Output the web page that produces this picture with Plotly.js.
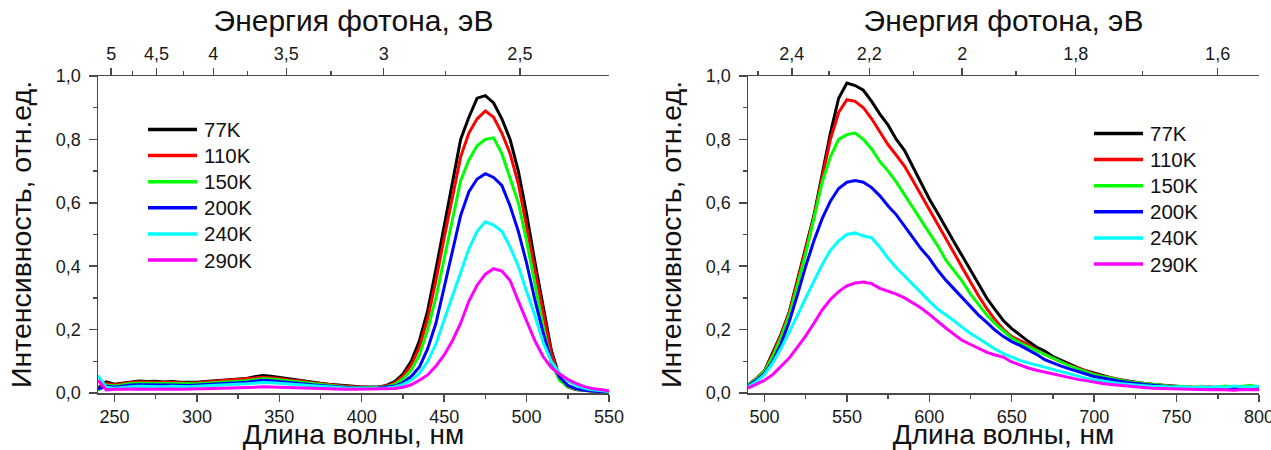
<!DOCTYPE html>
<html>
<head>
<meta charset="utf-8">
<script src="https://cdn.plot.ly/plotly-3.0.1.min.js"></script>
<style>
  html, body { margin: 0; padding: 0; background: #fff; }
  #chart { width: 1271px; height: 450px; }
</style>
</head>
<body>
<div id="chart"></div>
<script>
// Photoluminescence spectra at several temperatures: excitation band (left)
// and emission band (right), each with a photon-energy scale on top.

const seriesNames = ['77K', '110K', '150K', '200K', '240K', '290K'];
const seriesColors = ['#000000', '#ff0000', '#00ff00', '#0000ff', '#00ffff', '#ff00ff'];

// ---- Left panel: wavelength grid, nm
const wlLeft = [240, 245, 250, 255, 260, 265, 270, 275, 280, 285, 290, 295, 300, 305, 310, 315,
  320, 325, 330, 335, 340, 345, 350, 355, 360, 365, 370, 375, 380, 385, 390, 395, 400, 405, 410,
  415, 420, 425, 430, 435, 440, 445, 450, 455, 460, 465, 470, 475, 480, 485, 490, 495, 500, 505,
  510, 515, 520, 525, 530, 535, 540, 545, 550];

const left77 = [0.015, 0.035, 0.028, 0.032, 0.036, 0.038, 0.036, 0.037, 0.035, 0.036, 0.034, 0.033,
  0.034, 0.036, 0.038, 0.040, 0.041, 0.043, 0.046, 0.051, 0.055, 0.053, 0.049, 0.045, 0.043, 0.039,
  0.035, 0.031, 0.028, 0.025, 0.022, 0.021, 0.019, 0.018, 0.019, 0.024, 0.036, 0.060, 0.100, 0.165,
  0.260, 0.390, 0.530, 0.670, 0.800, 0.870, 0.930, 0.938, 0.915, 0.865, 0.800, 0.700, 0.565, 0.415,
  0.275, 0.135, 0.050, 0.020, 0.011, 0.008, 0.006, 0.004, 0.003];
const left110 = [0.012, 0.030, 0.025, 0.030, 0.033, 0.035, 0.034, 0.035, 0.033, 0.034, 0.032, 0.031,
  0.032, 0.034, 0.036, 0.037, 0.039, 0.041, 0.043, 0.047, 0.050, 0.049, 0.046, 0.042, 0.040, 0.036,
  0.032, 0.029, 0.026, 0.023, 0.021, 0.020, 0.018, 0.017, 0.018, 0.022, 0.032, 0.053, 0.088, 0.145,
  0.235, 0.355, 0.490, 0.620, 0.745, 0.820, 0.865, 0.890, 0.870, 0.820, 0.755, 0.660, 0.530, 0.390,
  0.255, 0.125, 0.048, 0.020, 0.011, 0.008, 0.006, 0.004, 0.003];
const left150 = [0.010, 0.025, 0.022, 0.027, 0.030, 0.031, 0.030, 0.031, 0.030, 0.030, 0.029, 0.028,
  0.029, 0.031, 0.032, 0.034, 0.035, 0.037, 0.039, 0.042, 0.045, 0.044, 0.041, 0.038, 0.036, 0.033,
  0.030, 0.027, 0.024, 0.021, 0.019, 0.018, 0.017, 0.016, 0.017, 0.020, 0.027, 0.045, 0.072, 0.120,
  0.200, 0.300, 0.420, 0.550, 0.670, 0.735, 0.780, 0.800, 0.805, 0.755, 0.680, 0.600, 0.480, 0.340,
  0.210, 0.095, 0.040, 0.020, 0.012, 0.008, 0.006, 0.004, 0.003];
const left200 = [0.012, 0.022, 0.018, 0.022, 0.025, 0.026, 0.025, 0.026, 0.025, 0.025, 0.024, 0.024,
  0.025, 0.026, 0.028, 0.029, 0.031, 0.032, 0.034, 0.037, 0.040, 0.039, 0.036, 0.033, 0.031, 0.029,
  0.026, 0.024, 0.021, 0.019, 0.017, 0.016, 0.015, 0.015, 0.016, 0.018, 0.022, 0.033, 0.052, 0.082,
  0.140, 0.220, 0.330, 0.450, 0.560, 0.635, 0.675, 0.692, 0.680, 0.655, 0.590, 0.510, 0.410, 0.295,
  0.190, 0.100, 0.050, 0.024, 0.013, 0.009, 0.006, 0.004, 0.003];
const left240 = [0.055, 0.018, 0.015, 0.018, 0.020, 0.021, 0.020, 0.021, 0.020, 0.021, 0.020, 0.020,
  0.021, 0.022, 0.023, 0.025, 0.026, 0.027, 0.029, 0.031, 0.033, 0.032, 0.030, 0.028, 0.026, 0.024,
  0.022, 0.020, 0.018, 0.017, 0.016, 0.015, 0.015, 0.014, 0.015, 0.016, 0.019, 0.027, 0.040, 0.062,
  0.100, 0.155, 0.230, 0.305, 0.380, 0.455, 0.510, 0.540, 0.530, 0.510, 0.460, 0.400, 0.320, 0.245,
  0.160, 0.100, 0.063, 0.038, 0.024, 0.015, 0.010, 0.007, 0.005];
const left290 = [0.040, 0.010, 0.012, 0.013, 0.012, 0.013, 0.012, 0.013, 0.012, 0.013, 0.012, 0.012,
  0.013, 0.013, 0.014, 0.015, 0.015, 0.016, 0.017, 0.018, 0.020, 0.019, 0.018, 0.017, 0.016, 0.015,
  0.014, 0.013, 0.013, 0.012, 0.012, 0.012, 0.012, 0.012, 0.012, 0.013, 0.014, 0.018, 0.026, 0.040,
  0.057, 0.085, 0.120, 0.165, 0.220, 0.290, 0.340, 0.375, 0.392, 0.385, 0.355, 0.290, 0.230, 0.165,
  0.115, 0.080, 0.060, 0.043, 0.030, 0.020, 0.014, 0.010, 0.007];

// ---- Right panel: wavelength grid, nm
const wlRight = [490, 495, 500, 505, 510, 515, 520, 525, 530, 535, 540, 545, 550, 555, 560, 565,
  570, 575, 580, 585, 590, 595, 600, 605, 610, 615, 620, 625, 630, 635, 640, 645, 650, 655, 660,
  665, 670, 675, 680, 685, 690, 695, 700, 705, 710, 715, 720, 725, 730, 735, 740, 745, 750, 755,
  760, 765, 770, 775, 780, 785, 790, 795, 800];

const right77 = [0.025, 0.045, 0.070, 0.125, 0.185, 0.255, 0.355, 0.455, 0.560, 0.690, 0.820, 0.930,
  0.978, 0.970, 0.955, 0.920, 0.880, 0.845, 0.800, 0.765, 0.715, 0.665, 0.612, 0.568, 0.520, 0.476,
  0.432, 0.386, 0.340, 0.298, 0.262, 0.228, 0.203, 0.182, 0.163, 0.145, 0.132, 0.115, 0.103, 0.092,
  0.080, 0.070, 0.062, 0.055, 0.048, 0.043, 0.038, 0.034, 0.030, 0.027, 0.025, 0.022, 0.020, 0.018,
  0.017, 0.016, 0.016, 0.015, 0.017, 0.014, 0.016, 0.015, 0.015];
const right110 = [0.025, 0.045, 0.070, 0.122, 0.183, 0.252, 0.352, 0.452, 0.555, 0.680, 0.800, 0.885,
  0.925, 0.920, 0.900, 0.865, 0.825, 0.783, 0.750, 0.715, 0.670, 0.625, 0.578, 0.535, 0.487, 0.442,
  0.395, 0.350, 0.305, 0.265, 0.230, 0.200, 0.178, 0.165, 0.152, 0.135, 0.122, 0.110, 0.098, 0.088,
  0.078, 0.068, 0.060, 0.053, 0.047, 0.042, 0.037, 0.033, 0.030, 0.027, 0.025, 0.022, 0.020, 0.019,
  0.018, 0.017, 0.020, 0.016, 0.018, 0.016, 0.019, 0.016, 0.017];
const right150 = [0.025, 0.044, 0.068, 0.115, 0.175, 0.245, 0.340, 0.440, 0.550, 0.665, 0.745, 0.800,
  0.815, 0.820, 0.800, 0.770, 0.730, 0.700, 0.665, 0.625, 0.585, 0.545, 0.505, 0.465, 0.420, 0.385,
  0.352, 0.312, 0.280, 0.245, 0.218, 0.195, 0.173, 0.158, 0.146, 0.133, 0.120, 0.108, 0.097, 0.086,
  0.076, 0.067, 0.058, 0.052, 0.046, 0.041, 0.036, 0.033, 0.030, 0.027, 0.024, 0.022, 0.021, 0.019,
  0.018, 0.020, 0.017, 0.019, 0.022, 0.018, 0.020, 0.024, 0.018];
const right200 = [0.022, 0.040, 0.062, 0.100, 0.155, 0.225, 0.310, 0.400, 0.480, 0.550, 0.605, 0.645,
  0.665, 0.670, 0.665, 0.648, 0.622, 0.590, 0.562, 0.525, 0.490, 0.455, 0.425, 0.388, 0.356, 0.328,
  0.300, 0.275, 0.245, 0.222, 0.198, 0.178, 0.162, 0.150, 0.137, 0.122, 0.105, 0.094, 0.085, 0.076,
  0.067, 0.060, 0.052, 0.047, 0.042, 0.037, 0.033, 0.030, 0.027, 0.024, 0.022, 0.020, 0.018, 0.017,
  0.016, 0.015, 0.016, 0.014, 0.015, 0.016, 0.014, 0.015, 0.014];
const right240 = [0.020, 0.035, 0.058, 0.095, 0.140, 0.190, 0.245, 0.300, 0.355, 0.405, 0.450, 0.480,
  0.500, 0.505, 0.495, 0.490, 0.460, 0.425, 0.395, 0.368, 0.342, 0.315, 0.290, 0.265, 0.247, 0.228,
  0.207, 0.188, 0.172, 0.154, 0.138, 0.124, 0.113, 0.103, 0.095, 0.088, 0.080, 0.073, 0.066, 0.059,
  0.053, 0.047, 0.042, 0.037, 0.034, 0.030, 0.027, 0.025, 0.023, 0.021, 0.020, 0.019, 0.018, 0.020,
  0.017, 0.019, 0.018, 0.020, 0.018, 0.022, 0.019, 0.020, 0.021];
const right290 = [0.015, 0.028, 0.040, 0.058, 0.085, 0.110, 0.145, 0.180, 0.220, 0.262, 0.295, 0.320,
  0.338, 0.347, 0.350, 0.345, 0.330, 0.322, 0.312, 0.300, 0.285, 0.268, 0.248, 0.225, 0.205, 0.185,
  0.166, 0.153, 0.140, 0.128, 0.120, 0.113, 0.098, 0.088, 0.079, 0.072, 0.066, 0.060, 0.054, 0.048,
  0.043, 0.039, 0.034, 0.030, 0.027, 0.024, 0.021, 0.019, 0.017, 0.015, 0.014, 0.013, 0.012, 0.011,
  0.010, 0.011, 0.010, 0.011, 0.010, 0.009, 0.011, 0.010, 0.010];

const leftSeries = [left77, left110, left150, left200, left240, left290];
const rightSeries = [right77, right110, right150, right200, right240, right290];

// Photon energy scale (eV) on the top axes
const evLeft = [5, 4.5, 4, 3.5, 3, 2.5];
const evLeftText = ['5', '4,5', '4', '3,5', '3', '2,5'];
const evLeftMinor = [4.75, 4.25, 3.75, 3.25, 2.75];
const evRight = [2.4, 2.2, 2, 1.8, 1.6];
const evRightText = ['2,4', '2,2', '2', '1,8', '1,6'];
const evRightMinor = [2.5, 2.3, 2.1, 1.9, 1.7];

const HC = 1239.84; // eV*nm
const toNm = e => HC / e;

// ---- Figure geometry (pixels)
const W = 1271, H = 450;
const M = { l: 0, r: 0, t: 76, b: 57 };
const plotH = H - M.t - M.b;
const px = x => x / W;
const py = y => (H - M.b - y) / plotH;

const FONT = 'Liberation Sans, Arial, sans-serif';
const AX = '#4a4a4a';

const traces = [];
seriesNames.forEach((name, i) => {
  traces.push({
    x: wlLeft, y: leftSeries[i], xaxis: 'x', yaxis: 'y', type: 'scatter', mode: 'lines',
    name: name, showlegend: false, line: { color: seriesColors[i], width: 3 }
  });
});
seriesNames.forEach((name, i) => {
  traces.push({
    x: wlRight, y: rightSeries[i], xaxis: 'x3', yaxis: 'y2', type: 'scatter', mode: 'lines',
    name: name, showlegend: false, line: { color: seriesColors[i], width: 3 }
  });
});
// empty traces so that the energy axes get their own subplots
traces.push({ x: [], y: [], xaxis: 'x2', yaxis: 'y', type: 'scatter', mode: 'lines', showlegend: false, hoverinfo: 'skip' });
traces.push({ x: [], y: [], xaxis: 'x4', yaxis: 'y2', type: 'scatter', mode: 'lines', showlegend: false, hoverinfo: 'skip' });

const tickFont = { family: FONT, size: 18, color: '#1a1a1a' };
const titleFont = { family: FONT, size: 30, color: '#111' };

function bottomAxis(domain, range, anchor) {
  return {
    domain: domain, range: range, anchor: anchor,
    showline: true, linecolor: AX, linewidth: 1.5, mirror: false,
    ticks: 'outside', ticklen: 7, tickwidth: 1.5, tickcolor: AX,
    dtick: 50, tick0: 0, showgrid: false, zeroline: false, ticklabeloverflow: 'allow',
    minor: { dtick: 25, ticks: 'outside', ticklen: 4, tickwidth: 1.5, tickcolor: AX },
    tickfont: tickFont,
    title: { text: 'Длина волны, нм', font: { family: FONT, size: 28, color: '#111' }, standoff: 9 }
  };
}
function topAxis(over, range, anchor, ev, evText, evMinor) {
  return {
    overlaying: over, side: 'top', anchor: anchor, range: range,
    showline: true, linecolor: AX, linewidth: 1.5,
    tickmode: 'array', tickvals: ev.map(toNm), ticktext: evText,
    ticks: 'outside', ticklen: 7, tickwidth: 1.5, tickcolor: AX,
    minor: { tickmode: 'array', tickvals: evMinor.map(toNm), ticks: 'outside', ticklen: 4, tickwidth: 1.5, tickcolor: AX },
    showgrid: false, zeroline: false,
    tickfont: tickFont,
    title: { text: 'Энергия фотона, эВ', font: titleFont, standoff: 4 }
  };
}
function leftAxis(anchor) {
  return {
    domain: [0, 1], range: [0, 1], anchor: anchor,
    showline: true, linecolor: AX, linewidth: 1.5,
    ticks: 'outside', ticklen: 8, tickwidth: 1.5, tickcolor: AX,
    dtick: 0.2, tick0: 0, tickformat: '.1f', ticklabelstandoff: 4,
    minor: { dtick: 0.1, ticks: 'outside', ticklen: 4, tickwidth: 1.5, tickcolor: AX },
    showgrid: false, zeroline: false,
    tickfont: tickFont,
    title: { text: 'Интенсивность, отн.ед.', font: { family: FONT, size: 28.5, color: '#111' }, standoff: 16 }
  };
}

// ---- Legends drawn as short line samples with labels
const shapes = [];
const annotations = [];
function addLegend(x0, x1, xText, yTop, step) {
  seriesNames.forEach((name, i) => {
    const yy = py(yTop + i * step);
    shapes.push({
      type: 'line', xref: 'paper', yref: 'paper', x0: px(x0), x1: px(x1), y0: yy, y1: yy,
      line: { color: seriesColors[i], width: 3.5 }
    });
    annotations.push({
      xref: 'paper', yref: 'paper', x: px(xText), y: yy, xanchor: 'left', yanchor: 'middle',
      text: name, showarrow: false, font: { family: FONT, size: 20.5, color: '#111' }
    });
  });
}
addLegend(148, 197, 202, 129.5, 26.1);
addLegend(1094, 1143, 1148, 133.5, 26.1);

const layout = {
  width: W, height: H,
  margin: M,
  paper_bgcolor: '#fff', plot_bgcolor: '#fff',
  separators: ', ',
  showlegend: false,
  font: { family: FONT },
  xaxis: bottomAxis([98 / W, 609 / W], [240, 550], 'y'),
  xaxis2: topAxis('x', [240, 550], 'y', evLeft, evLeftText, evLeftMinor),
  xaxis3: bottomAxis([748 / W, 1259 / W], [490, 800], 'y2'),
  xaxis4: topAxis('x3', [490, 800], 'y2', evRight, evRightText, evRightMinor),
  yaxis: leftAxis('x'),
  yaxis2: leftAxis('x3'),
  shapes: shapes,
  annotations: annotations
};

Plotly.newPlot('chart', traces, layout, { staticPlot: true, displayModeBar: false });
</script>
</body>
</html>
